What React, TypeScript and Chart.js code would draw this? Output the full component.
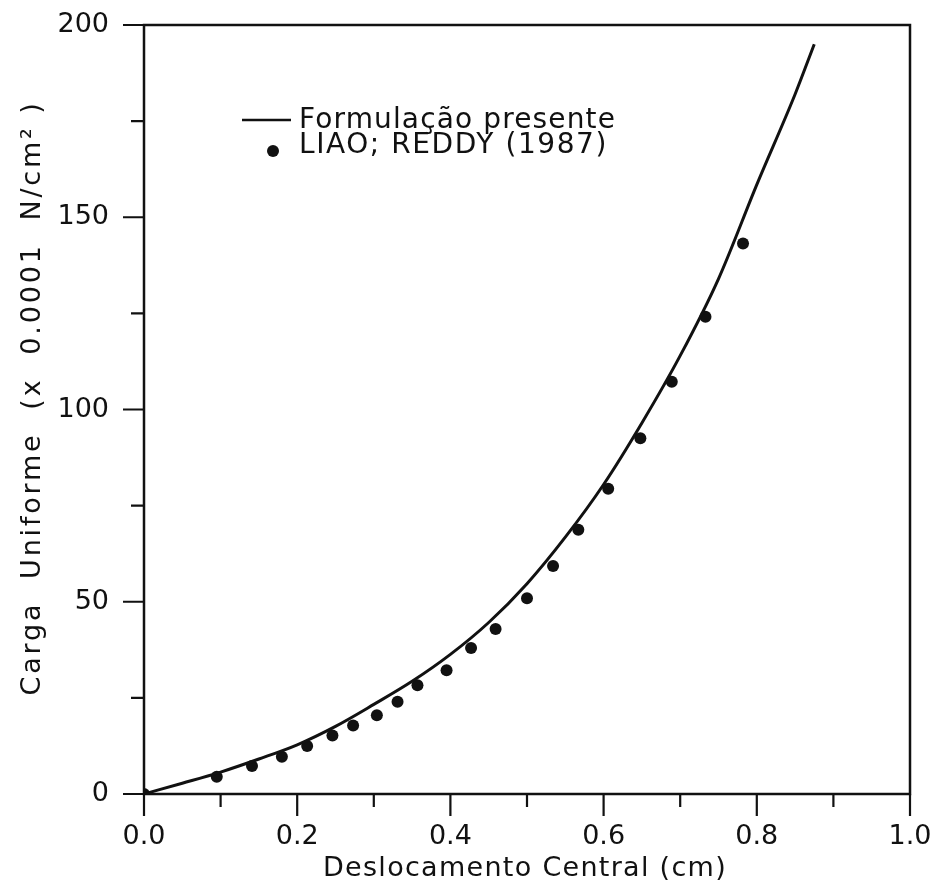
import React, { useEffect, useRef } from "react";
import { Chart, registerables } from "chart.js";

Chart.register(...registerables);

// ---- data ----
const seriesNames = ["Formulação presente", "LIAO; REDDY (1987)"];
const lineX = [0, 0.05, 0.1, 0.15, 0.2, 0.25, 0.3, 0.35, 0.4, 0.45, 0.5, 0.55, 0.6, 0.65, 0.7, 0.75, 0.8, 0.85, 0.875];
const lineY = [0, 2.8, 5.7, 9.1, 12.8, 17.6, 23.3, 29.3, 36.3, 44.6, 54.7, 66.8, 80.5, 96.5, 114, 134, 158.5, 182, 195];
const refX = [0, 0.095, 0.141, 0.18, 0.213, 0.246, 0.273, 0.304, 0.331, 0.357, 0.395, 0.427, 0.459, 0.5, 0.534, 0.567, 0.606, 0.648, 0.689, 0.733, 0.782];
const refY = [0, 4.5, 7.3, 9.7, 12.5, 15.2, 17.8, 20.5, 24.0, 28.3, 32.2, 38.0, 42.9, 50.9, 59.3, 68.7, 79.4, 92.5, 107.2, 124.1, 143.2];
const xMajorTicks = [0, 0.2, 0.4, 0.6, 0.8, 1.0];
const xMinorTicks = [0.1, 0.3, 0.5, 0.7, 0.9];
const yMajorTicks = [0, 50, 100, 150, 200];
const yMinorTicks = [25, 75, 125, 175];
const xTitle = "Deslocamento Central (cm)";
const yTitle = "Carga  Uniforme  (x  0.0001  N/cm² )";

const FONT = "'DejaVu Sans', sans-serif";
const INK = "#111";

function fitText(ctx: CanvasRenderingContext2D, text: string, x: number, y: number, width: number, center: boolean) {
  (ctx as any).letterSpacing = "0px";
  const w = ctx.measureText(text).width;
  const n = Array.from(text).length;
  const ls = (width - w) / n;
  (ctx as any).letterSpacing = ls + "px";
  ctx.textAlign = "left";
  ctx.fillText(text, center ? x - width / 2 : x, y);
  (ctx as any).letterSpacing = "0px";
}

const decorPlugin = {
  id: "decor",
  afterDraw(chart: any) {
    const { ctx, chartArea, scales } = chart;
    const { left, right, top, bottom } = chartArea;
    const xs = scales.x;
    const ys = scales.y;
    ctx.save();
    ctx.strokeStyle = INK;
    ctx.fillStyle = INK;
    ctx.lineWidth = 2.5;
    ctx.strokeRect(left, top, right - left, bottom - top);
    ctx.lineWidth = 2.2;
    ctx.beginPath();
    for (const v of xMajorTicks) {
      const p = xs.getPixelForValue(v);
      ctx.moveTo(p, bottom);
      ctx.lineTo(p, bottom + 22);
    }
    for (const v of xMinorTicks) {
      const p = xs.getPixelForValue(v);
      ctx.moveTo(p, bottom);
      ctx.lineTo(p, bottom + 13);
    }
    for (const v of yMajorTicks) {
      const p = ys.getPixelForValue(v);
      ctx.moveTo(left, p);
      ctx.lineTo(left - 21, p);
    }
    for (const v of yMinorTicks) {
      const p = ys.getPixelForValue(v);
      ctx.moveTo(left, p);
      ctx.lineTo(left - 13, p);
    }
    ctx.stroke();

    // legend
    ctx.lineWidth = 2.5;
    ctx.beginPath();
    ctx.moveTo(242, 120);
    ctx.lineTo(291, 120);
    ctx.stroke();
    ctx.beginPath();
    ctx.arc(273, 151, 6, 0, Math.PI * 2);
    ctx.fill();
    ctx.font = `28px ${FONT}`;
    ctx.textBaseline = "alphabetic";
    fitText(ctx, chart.data.datasets[0].label, 299, 128, 317, false);
    fitText(ctx, chart.data.datasets[1].label, 299, 153, 309, false);

    // axis titles
    ctx.font = `27px ${FONT}`;
    ctx.textBaseline = "middle";
    fitText(ctx, xTitle, 525, 869, 404, true);
    ctx.translate(33, 398);
    ctx.rotate(-Math.PI / 2);
    fitText(ctx, yTitle, 0, 0, 595, true);
    ctx.restore();
  },
};

function zeroPad(s: any) {
  s.paddingLeft = 0;
  s.paddingRight = 0;
  s.paddingTop = 0;
  s.paddingBottom = 0;
}

export default function App() {
  const ref = useRef<HTMLCanvasElement | null>(null);
  useEffect(() => {
    if (!ref.current) return;
    const chart = new Chart(ref.current, {
      type: "scatter",
      data: {
        datasets: [
          {
            label: seriesNames[0],
            data: lineX.map((x, i) => ({ x, y: lineY[i] })),
            showLine: true,
            borderColor: INK,
            borderWidth: 3,
            pointRadius: 0,
            cubicInterpolationMode: "monotone",
            fill: false,
          } as any,
          {
            label: seriesNames[1],
            data: refX.map((x, i) => ({ x, y: refY[i] })),
            showLine: false,
            pointRadius: 6,
            pointBackgroundColor: INK,
            pointBorderWidth: 0,
            backgroundColor: INK,
            borderColor: INK,
          },
        ],
      },
      options: {
        responsive: false,
        animation: false,
        layout: { padding: { top: 25, right: 20, left: 0, bottom: 0 } },
        plugins: { legend: { display: false }, tooltip: { enabled: false }, title: { display: false } },
        scales: {
          x: {
            type: "linear",
            position: "bottom",
            min: 0,
            max: 1,
            grid: { display: false },
            border: { display: false },
            ticks: {
              stepSize: 0.2,
              autoSkip: false,
              maxRotation: 0,
              padding: 19,
              color: INK,
              font: { size: 27, family: FONT },
              callback: (v: any) => Number(v).toFixed(1),
            },
            afterFit: (s: any) => {
              s.height = 98;
              zeroPad(s);
            },
          },
          y: {
            type: "linear",
            min: 0,
            max: 200,
            grid: { display: false },
            border: { display: false },
            ticks: {
              stepSize: 50,
              padding: 27,
              color: INK,
              font: { size: 27, family: FONT },
            },
            afterFit: (s: any) => {
              s.width = 144;
              zeroPad(s);
            },
          },
        },
      } as any,
      plugins: [decorPlugin],
    });
    return () => chart.destroy();
  }, []);
  return (
    <div style={{ position: "absolute", left: 0, top: 0, width: 930, height: 892, background: "#fff" }}>
      <canvas ref={ref} width={930} height={892} />
    </div>
  );
}
